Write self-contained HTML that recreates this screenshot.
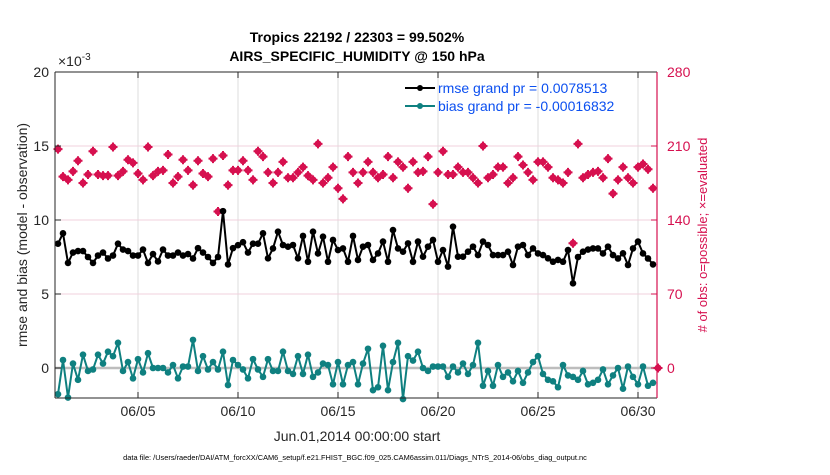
<!DOCTYPE html>
<html><head><meta charset="utf-8"><style>
body{margin:0;background:#fff;width:830px;height:470px;overflow:hidden;font-family:"Liberation Sans",sans-serif}
</style></head><body>
<svg id="chart" width="830" height="470" xmlns="http://www.w3.org/2000/svg" font-family="Liberation Sans, sans-serif">
<g id="grid"></g>
<g id="series"></g>
<g id="axes"></g>
<text x="357" y="42" text-anchor="middle" font-size="14" font-weight="bold">Tropics 22192 / 22303 = 99.502%</text>
<text x="357" y="61" text-anchor="middle" font-size="14" font-weight="bold">AIRS_SPECIFIC_HUMIDITY @ 150 hPa</text>
<text x="58" y="66" font-size="14" fill="#262626">×10<tspan dy="-6" font-size="10">-3</tspan></text>
<text transform="translate(27,235) rotate(-90)" text-anchor="middle" font-size="14" fill="#262626">rmse and bias (model - observation)</text>
<text transform="translate(707,235) rotate(-90)" text-anchor="middle" font-size="13" fill="#d6104f"># of obs: o=possible; ×=evaluated</text>
<text x="357" y="441" text-anchor="middle" font-size="14" fill="#262626">Jun.01,2014 00:00:00 start</text>
<text x="355" y="460" text-anchor="middle" font-size="7.4" fill="#000">data file: /Users/raeder/DAI/ATM_forcXX/CAM6_setup/f.e21.FHIST_BGC.f09_025.CAM6assim.011/Diags_NTrS_2014-06/obs_diag_output.nc</text>
<g>
<line x1="405" y1="88" x2="435" y2="88" stroke="#000" stroke-width="2"/><circle cx="420" cy="88" r="3" fill="#000"/>
<text x="438" y="93" font-size="14" fill="#0b4ff0">rmse grand pr = 0.0078513</text>
<line x1="405" y1="106" x2="435" y2="106" stroke="#0f8080" stroke-width="2"/><circle cx="420" cy="106" r="3" fill="#0f8080"/>
<text x="438" y="111" font-size="14" fill="#0b4ff0">bias grand pr = -0.00016832</text>
</g>
</svg>
<script>
const rmseValues=[8.4,9.1,7.1,7.8,7.9,7.9,7.5,7.1,7.6,7.8,7.4,7.6,8.4,8.0,7.9,7.6,7.6,8.0,7.1,7.7,7.2,8.0,7.6,7.6,7.8,7.6,7.7,7.4,8.1,7.8,7.5,7.1,7.5,10.6,7.0,8.1,8.3,8.5,7.8,8.4,8.4,
9.1,7.41,8.08,9.21,8.31,8.2,8.31,7.41,8.92,7.18,9.21,7.74,8.87,7.18,8.65,7.97,8.08,7.18,8.92,7.3,8.2,8.31,7.3,7.74,8.54,7.18,9.32,8.08,7.86,8.42,7.18,8.54,7.52,8.2,8.65,7.18,7.97,6.85,9.55,
7.52,7.52,7.86,8.2,7.63,8.54,8.31,7.63,7.63,7.63,7.86,6.96,8.2,8.31,7.63,8.08,7.74,7.63,7.41,7.18,7.3,7.18,7.97,5.72,7.5,7.86,8.0,8.08,8.08,7.74,8.2,7.63,7.4,7.75,6.96,8.08,8.54,7.74,7.4,7.0];
const biasValues=[-1.77,0.54,-2.0,0.3,-0.8,0.9,-0.2,-0.1,0.9,0.3,1.1,0.8,1.7,-0.2,0.4,-0.7,0.6,-0.3,1.0,0,0,0,-0.3,0.2,-0.7,0.1,0.1,1.9,-0.2,0.8,-0.1,0.4,-0.1,1.1,-1.15,0.54,0.2,-0.1,-0.7,0.6,-0.1,
-0.6,0.6,-0.2,-0.2,1.1,-0.2,-0.4,0.8,-0.4,0.9,-0.6,-0.3,0.3,0.2,-1.1,0.4,-1.1,0.2,0.4,-1.1,0.3,1.3,-1.5,-1.3,1.5,-1.5,0.4,1.7,-2.1,0.8,0.5,1.1,0.0,-0.2,0.1,0.1,0.1,-0.6,0.1,
-0.3,0.3,-0.4,0.2,1.7,-1.2,-0.2,-1.2,0.2,-0.6,-0.3,-0.9,-0.2,-1.0,-0.3,0.4,0.8,-0.4,-0.8,-0.9,-1.3,0.2,-0.5,-0.6,-0.8,-0.2,-1.1,-1.0,-0.8,-0.1,-1.1,-0.5,0.0,-1.4,0.1,-0.6,-1.1,0.1,-1.2,-1.0];
const obsCounts=[207,181,178,186,196,175,183,205,183,182,182,209,182,186,197,194,184,178,209,182,186,187,202,175,181,197,187,173,196,184,181,198,148,201,173,187,187,196,187,178,205,
200,185,175,185,195,180,180,185,190,182,178,212,175,180,190,170,160,200,185,175,185,195,185,180,183,200,180,195,190,170,195,185,186,200,155,185,205,183,183,
190,185,185,180,175,210,180,183,190,190,175,180,200,192,185,178,195,195,190,180,178,175,185,118,212,180,183,185,186,180,198,165,178,190,180,175,190,193,188,170,0];
const leftTicks=[0,5,10,15,20];
const rightTicks=[0,70,140,210,280];
const dayTicks=[5,10,15,20,25,30];
const dayLabels=["06/05","06/10","06/15","06/20","06/25","06/30"];

const NS="http://www.w3.org/2000/svg";
const PL=55,PR=657,PT=72,PB=398;
const yL=v=>368-v*14.8;
const yR=v=>368-v*74/70;
const xI=i=>58+i*5;
const xDay=d=>58+(d-1)*20;
function mk(tag,attrs,parent){const e=document.createElementNS(NS,tag);for(const k in attrs)e.setAttribute(k,attrs[k]);parent.appendChild(e);return e;}
const grid=document.getElementById('grid'),ser=document.getElementById('series'),axes=document.getElementById('axes');

dayTicks.forEach((d,k)=>{
 const g=mk('line',{x1:xDay(d),x2:xDay(d),y1:PT,y2:PB,stroke:'#dcdcdc','stroke-width':1},grid);
 
 
 const t=mk('text',{x:xDay(d),y:PB+18,'text-anchor':'middle','font-size':14,fill:'#262626'},axes);
 t.textContent=dayLabels[k];
 
 
 mk('line',{x1:xDay(d),x2:xDay(d),y1:PB,y2:PB-6,stroke:'#262626'},axes);
 mk('line',{x1:xDay(d),x2:xDay(d),y1:PT,y2:PT+6,stroke:'#262626'},axes);
});
rightTicks.forEach(v=>{
 if(v>0&&v<280){const g=mk('line',{x1:PL,x2:PR,y1:yR(v),y2:yR(v),stroke:'#f0d0dc','stroke-width':1},grid);
 
 }
 const t=mk('text',{x:PR+10,y:yR(v)+5,'font-size':14,fill:'#d6104f'},axes);t.textContent=v;
 
 
 mk('line',{x1:PR,x2:PR-6,y1:yR(v),y2:yR(v),stroke:'#d6104f'},axes);
});
leftTicks.forEach(v=>{
 const t=mk('text',{x:PL-6,y:yL(v)+5,'text-anchor':'end','font-size':14,fill:'#262626'},axes);t.textContent=v;
 
 
 mk('line',{x1:PL,x2:PL+6,y1:yL(v),y2:yL(v),stroke:'#262626'},axes);
});
const zl=mk('line',{x1:PL,x2:PR,y1:yL(0),y2:yL(0),stroke:'#bdbdbd','stroke-width':2.5},grid);


mk('line',{x1:PL,x2:PR,y1:PT,y2:PT,stroke:'#262626'},axes);
mk('line',{x1:PL,x2:PR,y1:PB,y2:PB,stroke:'#262626'},axes);
mk('line',{x1:PL,x2:PL,y1:PT,y2:PB,stroke:'#262626'},axes);
mk('line',{x1:PR,x2:PR,y1:PT,y2:PB,stroke:'#d6104f','stroke-width':1.2},axes);

obsCounts.forEach((v,i)=>{
 const x=xI(i),y=yR(v);
 const c=mk('circle',{cx:x,cy:y,r:3.5,fill:'#d6104f'},ser);
 
 
 mk('path',{d:`M${x-4.5} ${y}H${x+4.5}M${x} ${y-4.5}V${y+4.5}`,stroke:'#d6104f','stroke-width':2},ser);
});
function line(vals,color,name){
 const p=mk('polyline',{points:vals.map((v,i)=>xI(i)+','+yL(v)).join(' '),fill:'none',stroke:color,'stroke-width':2},ser);
 
 
 vals.forEach((v,i)=>{const c=mk('circle',{cx:xI(i),cy:yL(v),r:3.3,fill:color},ser);
 
 });
}
line(biasValues,'#0f8080','bias');
line(rmseValues,'#000','rmse');
</script>
</body></html>
